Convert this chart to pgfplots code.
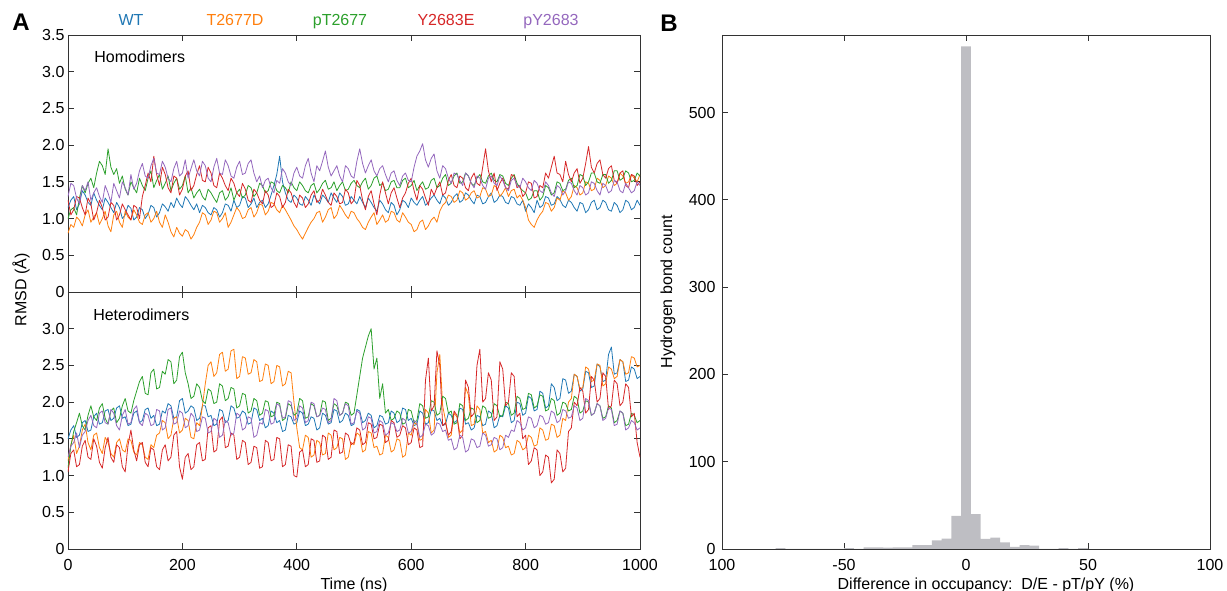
\documentclass[border=0pt]{standalone}
\usepackage{pgfplots}
\pgfplotsset{compat=1.18}
\usepackage{pgfplotstable}
\usepackage{fontspec}
\setmainfont{Liberation Sans}
\newcommand{\fs}{\fontsize{16}{19}\selectfont}
\definecolor{cWT}{HTML}{1F77B4}
\definecolor{cT}{HTML}{FF7F0E}
\definecolor{cpT}{HTML}{2CA02C}
\definecolor{cY}{HTML}{D62728}
\definecolor{cpY}{HTML}{9467BD}
\definecolor{hgray}{RGB}{190,190,195}

\pgfplotstableread{
t WT T pT Y pY
0 1.15 0.80 1.00 1.25 1.30
5 1.25 0.92 1.12 1.05 1.48
10 1.30 0.88 1.15 1.12 1.45
15 1.12 1.02 1.05 1.30 1.28
20 1.20 0.98 1.28 1.28 1.20
25 1.38 0.90 1.45 1.15 1.45
30 1.32 1.05 1.35 1.05 1.38
35 1.22 1.12 1.48 1.28 1.50
40 1.18 0.95 1.55 1.20 1.25
45 1.35 1.02 1.42 0.98 1.35
50 1.25 1.08 1.62 1.08 1.42
55 1.18 0.92 1.78 1.25 1.30
60 1.12 1.00 1.72 1.15 1.22
65 1.28 1.10 1.60 0.98 1.45
70 1.22 0.90 1.95 1.02 1.35
75 1.15 0.82 1.70 1.22 1.22
80 1.08 1.05 1.60 1.18 1.48
85 1.22 1.10 1.68 0.98 1.38
90 1.15 0.95 1.48 1.05 1.28
95 1.00 0.88 1.58 1.20 1.50
100 1.05 1.10 1.40 1.12 1.42
105 1.18 1.02 1.32 1.05 1.32
110 1.14 0.98 1.50 0.98 1.60
115 0.98 1.12 1.42 1.18 1.40
120 1.02 1.05 1.35 1.15 1.48
125 1.15 0.95 1.55 1.00 1.65
130 1.12 0.92 1.45 1.30 1.75
135 1.00 1.05 1.38 1.45 1.58
140 1.06 1.08 1.55 1.62 1.55
145 1.18 0.95 1.65 1.50 1.72
150 1.15 1.00 1.42 1.85 1.82
155 1.02 1.10 1.52 1.60 1.62
160 1.08 0.95 1.60 1.45 1.60
165 1.20 0.88 1.40 1.70 1.78
170 1.16 1.05 1.48 1.60 1.70
175 1.10 0.95 1.58 1.42 1.55
180 1.22 0.82 1.38 1.35 1.50
185 1.15 0.75 1.48 1.58 1.68
190 1.28 0.88 1.55 1.55 1.78
195 1.20 0.80 1.40 1.32 1.58
200 1.15 0.76 1.45 1.40 1.62
205 1.30 0.85 1.58 1.58 1.80
210 1.25 0.82 1.35 1.65 1.55
215 1.18 0.72 1.42 1.38 1.68
220 1.12 0.78 1.28 1.45 1.80
225 1.20 0.88 1.35 1.60 1.65
230 1.08 0.95 1.40 1.72 1.58
235 1.18 1.08 1.30 1.52 1.78
240 1.15 1.05 1.25 1.50 1.72
245 1.08 0.92 1.40 1.70 1.55
250 1.05 0.98 1.35 1.62 1.50
255 1.15 1.10 1.28 1.45 1.70
260 1.12 1.08 1.22 1.42 1.82
265 1.02 0.95 1.35 1.62 1.62
270 1.08 1.00 1.38 1.55 1.60
275 1.20 1.08 1.25 1.45 1.80
280 1.18 0.88 1.30 1.38 1.72
285 1.10 0.95 1.42 1.55 1.58
290 1.25 1.05 1.25 1.48 1.55
295 1.15 1.15 1.35 1.35 1.70
300 1.18 1.10 1.40 1.30 1.78
305 1.30 1.00 1.28 1.48 1.60
310 1.28 1.02 1.32 1.40 1.62
315 1.15 1.12 1.45 1.25 1.75
320 1.20 1.15 1.42 1.22 1.80
325 1.28 1.02 1.30 1.40 1.62
330 1.15 1.08 1.35 1.35 1.50
335 1.22 1.20 1.48 1.25 1.58
340 1.25 1.18 1.45 1.20 1.42
345 1.15 1.05 1.35 1.38 1.52
350 1.20 1.10 1.38 1.32 1.55
355 1.32 1.22 1.50 1.15 1.42
360 1.45 1.20 1.48 1.18 1.35
365 1.60 1.12 1.38 1.35 1.52
370 1.85 1.08 1.35 1.30 1.48
375 1.50 1.18 1.45 1.15 1.68
380 1.35 1.12 1.42 1.22 1.62
385 1.25 1.05 1.35 1.40 1.50
390 1.22 0.98 1.50 1.35 1.45
395 1.32 0.90 1.42 1.22 1.62
400 1.28 0.85 1.38 1.15 1.70
405 1.20 0.78 1.50 1.32 1.58
410 1.18 0.72 1.45 1.28 1.55
415 1.30 0.80 1.38 1.15 1.72
420 1.25 0.88 1.35 1.20 1.82
425 1.18 0.95 1.45 1.32 1.62
430 1.32 1.00 1.48 1.38 1.50
435 1.25 1.08 1.35 1.22 1.72
440 1.20 1.10 1.40 1.25 1.65
445 1.32 0.95 1.48 1.40 1.78
450 1.28 1.02 1.52 1.32 1.92
455 1.22 1.12 1.40 1.22 1.70
460 1.35 1.15 1.42 1.18 1.58
465 1.28 1.00 1.50 1.35 1.65
470 1.22 1.05 1.38 1.30 1.72
475 1.35 1.18 1.45 1.20 1.58
480 1.30 1.12 1.50 1.22 1.50
485 1.18 1.05 1.38 1.40 1.72
490 1.20 1.00 1.40 1.35 1.68
495 1.30 1.10 1.48 1.20 1.58
500 1.25 1.08 1.52 1.25 1.55
505 1.20 1.00 1.45 1.52 1.78
510 1.30 0.95 1.42 1.45 1.95
515 1.22 0.88 1.50 1.25 1.75
520 1.15 0.85 1.55 1.12 1.62
525 1.28 0.95 1.40 1.30 1.72
530 1.22 1.02 1.45 1.38 1.80
535 1.15 1.08 1.55 1.20 1.65
540 1.10 0.92 1.58 1.05 1.58
545 1.25 0.98 1.45 1.32 1.68
550 1.20 1.05 1.48 1.50 1.72
555 1.12 0.95 1.38 1.35 1.60
560 1.08 0.98 1.40 1.20 1.50
565 1.22 1.10 1.50 1.35 1.62
570 1.18 1.08 1.52 1.42 1.65
575 1.05 0.98 1.42 1.28 1.52
580 1.12 0.95 1.42 1.15 1.45
585 1.25 1.08 1.52 1.28 1.58
590 1.22 1.02 1.55 1.35 1.62
595 1.15 0.95 1.42 1.48 1.52
600 1.28 0.92 1.45 1.55 1.50
605 1.22 0.82 1.52 1.38 1.70
610 1.18 0.85 1.38 1.25 1.85
615 1.25 0.95 1.45 1.45 1.92
620 1.30 0.98 1.50 1.40 2.02
625 1.18 0.85 1.40 1.28 1.80
630 1.22 0.90 1.42 1.18 1.70
635 1.28 0.98 1.52 1.40 1.82
640 1.32 1.02 1.55 1.32 1.88
645 1.25 0.95 1.42 1.42 1.65
650 1.20 1.10 1.45 1.50 1.55
655 1.32 1.18 1.55 1.32 1.72
660 1.28 1.22 1.60 1.35 1.68
665 1.18 1.32 1.45 1.52 1.55
670 1.22 1.30 1.48 1.60 1.48
675 1.30 1.22 1.58 1.45 1.62
680 1.34 1.25 1.62 1.42 1.60
685 1.22 1.38 1.48 1.58 1.52
690 1.25 1.35 1.50 1.55 1.45
695 1.35 1.25 1.62 1.42 1.62
700 1.32 1.28 1.58 1.38 1.58
705 1.25 1.35 1.48 1.55 1.48
710 1.20 1.38 1.45 1.62 1.42
715 1.32 1.28 1.55 1.48 1.58
720 1.30 1.30 1.60 1.45 1.55
725 1.20 1.42 1.50 1.70 1.45
730 1.22 1.40 1.48 1.95 1.40
735 1.30 1.30 1.58 1.65 1.55
740 1.35 1.32 1.62 1.50 1.58
745 1.22 1.45 1.52 1.62 1.48
750 1.25 1.42 1.50 1.38 1.45
755 1.32 1.30 1.60 1.48 1.58
760 1.30 1.35 1.58 1.55 1.52
765 1.22 1.42 1.48 1.42 1.42
770 1.20 1.30 1.45 1.40 1.38
775 1.30 1.38 1.55 1.60 1.52
780 1.28 1.40 1.60 1.58 1.55
785 1.20 1.28 1.48 1.42 1.45
790 1.18 1.32 1.42 1.45 1.42
795 1.25 1.25 1.38 1.30 1.55
800 1.10 1.15 1.35 1.35 1.50
805 1.20 0.98 1.25 1.50 1.42
810 1.15 0.92 1.28 1.48 1.38
815 1.08 0.88 1.38 1.28 1.52
820 1.25 0.98 1.38 1.30 1.48
825 1.15 1.05 1.25 1.45 1.38
830 1.18 1.10 1.30 1.42 1.35
835 1.30 1.22 1.45 1.62 1.50
840 1.28 1.20 1.42 1.55 1.45
845 1.18 1.10 1.32 1.70 1.35
850 1.20 1.15 1.35 1.85 1.30
855 1.30 1.28 1.50 1.62 1.45
860 1.26 1.25 1.48 1.60 1.42
865 1.18 1.38 1.38 1.50 1.32
870 1.15 1.35 1.40 1.78 1.38
875 1.25 1.25 1.52 1.60 1.50
880 1.22 1.30 1.55 1.50 1.48
885 1.15 1.45 1.42 1.62 1.38
890 1.10 1.42 1.45 1.68 1.32
895 1.22 1.32 1.60 1.48 1.45
900 1.20 1.35 1.58 1.55 1.42
905 1.08 1.50 1.45 1.75 1.32
910 1.12 1.48 1.50 1.98 1.35
915 1.22 1.38 1.62 1.70 1.50
920 1.25 1.40 1.62 1.62 1.48
925 1.12 1.55 1.50 1.75 1.38
930 1.15 1.52 1.48 1.80 1.32
935 1.25 1.42 1.60 1.60 1.48
940 1.22 1.45 1.60 1.55 1.45
945 1.12 1.58 1.48 1.68 1.35
950 1.10 1.55 1.52 1.72 1.38
955 1.22 1.45 1.65 1.52 1.52
960 1.18 1.48 1.65 1.48 1.50
965 1.08 1.62 1.52 1.62 1.38
970 1.12 1.58 1.55 1.65 1.35
975 1.25 1.48 1.65 1.45 1.48
980 1.22 1.50 1.62 1.42 1.42
985 1.12 1.60 1.50 1.60 1.35
990 1.15 1.55 1.52 1.58 1.38
995 1.25 1.50 1.62 1.45 1.50
1000 1.18 1.60 1.58 1.50 1.45
}\homo

\pgfplotstableread{
t WT T pT Y pY
0 1.50 1.20 1.10 1.05 1.25
5 1.62 1.42 1.40 1.30 1.40
10 1.68 1.55 1.60 1.35 1.45
15 1.52 1.30 1.72 1.12 1.58
20 1.55 1.40 1.85 1.15 1.38
25 1.72 1.62 1.68 1.40 1.55
30 1.75 1.70 1.62 1.48 1.60
35 1.60 1.45 1.82 1.25 1.75
40 1.62 1.35 1.95 1.22 1.82
45 1.80 1.55 1.80 1.50 1.68
50 1.85 1.58 1.75 1.40 1.65
55 1.70 1.38 1.92 1.18 1.85
60 1.72 1.30 1.98 1.10 1.88
65 1.88 1.52 1.78 1.38 1.72
70 1.90 1.45 1.70 1.52 1.70
75 1.75 1.30 1.88 1.25 1.90
80 1.78 1.25 1.92 1.18 1.85
85 1.92 1.45 1.72 1.42 1.68
90 1.95 1.50 1.78 1.38 1.62
95 1.78 1.35 1.95 1.12 1.82
100 1.80 1.32 2.05 1.05 1.90
105 1.68 1.50 1.88 1.42 1.70
110 1.70 1.48 1.85 1.62 1.72
115 1.85 1.32 2.02 1.35 1.90
120 1.88 1.28 2.15 1.20 1.95
125 1.72 1.45 2.28 1.42 1.72
130 1.75 1.42 2.35 1.45 1.68
135 1.90 1.25 2.12 1.18 1.85
140 1.92 1.22 2.10 1.12 1.82
145 1.78 1.42 2.40 1.38 1.68
150 1.82 1.38 2.45 1.35 1.70
155 1.68 1.55 2.18 1.12 1.90
160 1.70 1.58 2.20 1.08 1.88
165 1.88 1.75 2.42 1.35 1.62
170 1.85 1.72 2.38 1.42 1.65
175 1.98 1.50 2.58 1.20 1.90
180 1.95 1.55 2.55 1.25 1.92
185 1.78 1.78 2.25 1.55 1.70
190 1.80 1.80 2.30 1.60 1.72
195 2.02 1.58 2.62 1.12 1.88
200 2.05 1.62 2.68 0.95 1.85
205 1.85 1.78 2.40 1.25 1.65
210 1.88 1.75 2.25 1.30 1.68
215 1.95 1.52 2.05 1.08 1.85
220 1.92 1.50 2.08 1.12 1.80
225 1.75 1.72 2.25 1.42 1.60
230 1.78 1.68 2.20 1.45 1.62
235 1.95 1.95 2.02 1.20 1.80
240 1.95 2.25 1.98 1.22 1.78
245 1.80 2.50 2.18 1.65 1.58
250 1.82 2.55 2.15 1.68 1.60
255 1.68 2.35 1.98 1.32 1.78
260 1.70 2.40 2.00 1.35 1.75
265 1.90 2.65 2.25 1.75 1.52
270 1.88 2.68 2.22 1.80 1.55
275 1.72 2.42 2.02 1.38 1.75
280 1.75 2.45 2.05 1.40 1.72
285 1.95 2.70 2.20 1.58 1.55
290 1.92 2.72 2.18 1.55 1.58
295 1.78 2.32 1.92 1.22 1.85
300 1.80 2.35 1.95 1.25 1.82
305 1.88 2.62 2.12 1.48 1.62
310 1.85 2.60 2.10 1.45 1.65
315 1.70 2.38 1.85 1.15 1.80
320 1.72 2.40 1.88 1.18 1.78
325 1.92 2.58 2.05 1.40 1.52
330 1.90 2.55 2.02 1.38 1.55
335 1.75 2.28 1.82 1.10 1.72
340 1.78 2.30 1.85 1.12 1.70
345 1.65 2.52 2.02 1.48 1.90
350 1.68 2.50 2.00 1.45 1.88
355 1.88 2.25 1.80 1.20 1.70
360 1.85 2.28 1.82 1.22 1.72
365 1.72 2.50 2.00 1.52 1.98
370 1.75 2.48 1.98 1.50 1.95
375 1.60 2.22 1.75 1.12 1.78
380 1.62 2.25 1.78 1.15 1.80
385 1.82 2.42 1.98 1.42 2.02
390 1.80 2.40 1.95 1.40 2.00
395 1.70 2.00 1.82 1.00 1.75
400 1.72 1.65 1.85 0.98 1.78
405 1.88 1.38 2.05 1.32 1.95
410 1.85 1.35 2.02 1.35 1.92
415 1.68 1.55 1.78 1.12 1.72
420 1.70 1.52 1.80 1.15 1.75
425 1.80 1.25 1.98 1.50 2.00
430 1.78 1.28 1.95 1.48 1.98
435 1.62 1.48 1.80 1.18 1.80
440 1.65 1.45 1.82 1.20 1.82
445 1.85 1.28 2.02 1.55 1.92
450 1.82 1.30 2.00 1.52 1.90
455 1.70 1.58 1.75 1.22 1.72
460 1.72 1.55 1.78 1.25 1.75
465 1.90 1.35 1.98 1.62 2.05
470 1.88 1.38 1.95 1.60 2.02
475 1.72 1.52 1.82 1.30 1.82
480 1.75 1.50 1.85 1.32 1.85
485 1.85 1.22 2.00 1.58 1.98
490 1.82 1.25 1.98 1.55 1.95
495 1.68 1.45 1.82 1.42 1.70
500 1.70 1.42 1.85 1.45 1.72
505 1.90 1.58 2.10 1.65 1.88
510 1.88 1.55 2.35 1.62 1.85
515 1.72 1.32 2.60 1.42 1.62
520 1.75 1.35 2.75 1.45 1.65
525 1.85 1.60 2.90 1.72 1.80
530 1.82 1.58 3.00 1.70 1.78
535 1.65 1.38 2.45 1.50 1.58
540 1.68 1.40 2.60 1.52 1.60
545 1.82 1.28 2.05 1.70 1.75
550 1.80 1.30 2.25 1.68 1.72
555 1.70 1.55 1.85 1.45 1.55
560 1.72 1.52 1.90 1.48 1.58
565 1.88 1.32 1.75 1.75 1.72
570 1.85 1.35 1.78 1.72 1.70
575 1.72 1.50 1.88 1.52 1.60
580 1.75 1.48 1.85 1.55 1.62
585 1.92 1.25 1.70 1.68 1.78
590 1.90 1.28 1.72 1.65 1.75
595 1.75 1.58 1.90 1.42 1.58
600 1.78 1.55 1.88 1.45 1.60
605 1.68 1.72 1.72 1.65 1.75
610 1.70 1.70 1.75 1.62 1.72
615 1.88 1.48 1.98 1.38 1.52
620 1.85 1.50 1.95 1.40 1.55
625 1.70 1.90 1.78 2.30 1.70
630 1.72 1.85 1.80 2.60 1.68
635 1.90 1.58 2.02 1.88 1.55
640 1.88 1.62 2.00 1.95 1.58
645 1.75 2.40 1.82 2.70 1.72
650 1.78 2.65 1.85 2.50 1.70
655 1.68 1.95 2.08 1.68 1.60
660 1.70 1.75 2.05 1.72 1.62
665 1.85 1.52 1.85 1.55 1.48
670 1.82 1.55 1.88 1.60 1.50
675 1.72 1.85 1.70 1.88 1.35
680 1.75 1.80 1.72 1.82 1.38
685 1.92 1.58 1.98 1.50 1.55
690 1.90 1.62 1.95 1.55 1.52
695 1.70 2.20 1.75 2.30 1.32
700 1.72 2.10 1.78 2.20 1.35
705 1.62 1.68 1.92 1.80 1.50
710 1.65 1.70 1.90 1.85 1.48
715 1.82 1.95 1.72 2.50 1.38
720 1.80 1.90 1.75 2.72 1.40
725 1.68 1.58 1.95 2.00 1.58
730 1.70 1.60 1.92 2.05 1.55
735 1.88 1.45 1.78 2.40 1.40
740 1.85 1.48 1.80 2.30 1.42
745 1.65 1.32 1.98 1.75 1.52
750 1.68 1.35 1.95 1.80 1.50
755 1.82 1.55 1.80 2.55 1.35
760 1.80 1.52 1.82 2.45 1.38
765 1.95 1.38 2.00 1.95 1.55
770 1.92 1.40 1.98 2.00 1.52
775 1.72 1.28 1.82 2.40 1.62
780 1.75 1.30 1.85 2.35 1.60
785 2.00 1.48 2.08 1.80 1.75
790 1.98 1.45 2.05 1.85 1.72
795 1.82 1.35 1.90 1.50 1.62
800 1.85 1.38 1.92 1.55 1.65
805 2.08 1.55 2.12 1.15 1.80
810 2.05 1.52 2.10 1.20 1.78
815 1.88 1.40 1.92 1.38 1.65
820 1.90 1.42 1.95 1.35 1.68
825 2.15 1.65 2.10 1.00 1.82
830 2.12 1.62 2.08 1.05 1.80
835 1.92 1.48 1.88 1.28 1.70
840 1.95 1.50 1.90 1.25 1.72
845 2.25 1.70 2.05 0.90 1.88
850 2.20 1.68 2.02 0.95 1.85
855 2.02 1.52 1.82 1.35 1.72
860 2.05 1.55 1.85 1.30 1.75
865 2.32 1.78 2.00 1.05 1.90
870 2.30 1.75 1.98 1.10 1.88
875 2.12 2.00 1.88 1.60 1.78
880 2.15 2.05 1.90 1.65 1.80
885 2.38 2.38 2.08 2.00 1.95
890 2.35 2.35 2.05 1.95 1.92
895 2.15 2.18 1.85 2.20 1.75
900 2.18 2.20 1.88 2.15 1.78
905 2.42 2.48 2.02 1.85 2.05
910 2.40 2.45 2.00 1.90 2.02
915 2.20 2.28 1.82 2.35 1.82
920 2.22 2.30 1.85 2.30 1.85
925 2.52 2.52 1.98 2.00 1.98
930 2.48 2.50 1.95 2.05 1.95
935 2.28 2.22 1.78 2.40 1.75
940 2.30 2.25 1.80 2.35 1.78
945 2.65 2.48 1.95 1.90 1.92
950 2.75 2.45 1.92 1.95 1.90
955 2.38 2.32 1.72 2.30 1.68
960 2.40 2.35 1.75 2.25 1.70
965 2.58 2.58 1.88 1.95 1.88
970 2.55 2.55 1.85 2.00 1.85
975 2.28 2.38 1.68 2.25 1.62
980 2.30 2.40 1.70 2.20 1.65
985 2.48 2.62 1.85 1.80 1.75
990 2.45 2.60 1.82 1.85 1.72
995 2.32 2.48 1.72 1.45 1.62
1000 2.35 2.50 1.75 1.25 1.65
}\hetero

\pgfplotsset{
  base/.style={
    scale only axis,
    tick align=inside,
    major tick length=6pt,
    axis line style={black!80, line width=0.9pt},
    every tick/.style={black!80, line width=0.9pt},
    tick label style={font=\fs},
    /pgf/number format/assume math mode=true,
  },
  rmsd/.style={
    base,
    width=572pt, height=257pt,
    xmin=0, xmax=1000, ymin=0, ymax=3.5,
    xtick={0,200,400,600,800,1000},
    every axis plot/.append style={line width=0.8pt, line join=round},
  },
}

\begin{document}
\begin{tikzpicture}
\useasboundingbox (0pt,0pt) rectangle (1227pt,591pt);

% Panel A, top: homodimers
\begin{axis}[rmsd, at={(68pt,299pt)}, anchor=south west,
  xticklabel=\empty,
  ytick={0,0.5,1,1.5,2,2.5,3,3.5},
  yticklabels={0,0.5,1.0,1.5,2.0,2.5,3.0,3.5}]
\addplot[cWT] table[x=t,y=WT] {\homo};
\addplot[cT] table[x=t,y=T] {\homo};
\addplot[cpT] table[x=t,y=pT] {\homo};
\addplot[cY] table[x=t,y=Y] {\homo};
\addplot[cpY] table[x=t,y=pY] {\homo};
\node[anchor=west, font=\fs] at (axis cs:40,3.2) {Homodimers};
\end{axis}

% Panel A, bottom: heterodimers
\begin{axis}[rmsd, at={(68pt,42pt)}, anchor=south west,
  xticklabels={0,200,400,600,800,1000},
  xticklabel style={yshift=-7pt},
  ytick={0,0.5,1,1.5,2,2.5,3,3.5},
  yticklabels={0,0.5,1.0,1.5,2.0,2.5,3.0,}]
\addplot[cWT] table[x=t,y=WT] {\hetero};
\addplot[cT] table[x=t,y=T] {\hetero};
\addplot[cpT] table[x=t,y=pT] {\hetero};
\addplot[cY] table[x=t,y=Y] {\hetero};
\addplot[cpY] table[x=t,y=pY] {\hetero};
\node[anchor=west, font=\fs] at (axis cs:38,3.19) {Heterodimers};
\end{axis}

% Panel B: histogram
\begin{axis}[base, at={(722pt,42pt)}, anchor=south west,
  width=488pt, height=514pt,
  xmin=-100, xmax=100, ymin=0, ymax=589,
  xtick={-100,-50,0,50,100},
  xticklabels={100,-50,0,50,100},
  xticklabel style={yshift=-7pt},
  ytick={0,100,200,300,400,500},
  yticklabels={0,100,200,300,400,500},
  yticklabel style={xshift=-3pt},
  ytick pos=left]
\addplot[ybar interval, fill=hgray, draw=none] coordinates {
(-78,1) (-74,0) (-70,0) (-66,0) (-62,0) (-58,0) (-54,0) (-50,1) (-46,0)
(-42,2) (-38,2) (-34,1.5) (-30,2) (-26,2) (-22,4.5) (-18,4.5) (-14,10) (-10,12)
(-6,38) (-2,576) (2,40) (6,11.5) (10,13) (14,7.5) (18,2.5) (22,4.5) (26,3.8)
(30,0) (34,0) (38,1) (42,0) (46,1) (50,0)
};
\end{axis}

% Legend of panel A
\node[anchor=base, font=\fs, text=cWT] at (131pt,565pt) {WT};
\node[anchor=base, font=\fs, text=cT] at (235pt,565pt) {T2677D};
\node[anchor=base, font=\fs, text=cpT] at (340pt,565pt) {pT2677};
\node[anchor=base, font=\fs, text=cY] at (446pt,565pt) {Y2683E};
\node[anchor=base, font=\fs, text=cpY] at (551pt,565pt) {pY2683};

% Panel letters and axis titles
\node[font=\fontsize{24}{28}\selectfont\bfseries] at (21pt,569pt) {A};
\node[font=\fontsize{24}{28}\selectfont\bfseries] at (669pt,568pt) {B};
\node[font=\fs, rotate=90] at (21pt,301pt) {RMSD (Å)};
\node[font=\fs, rotate=90] at (668pt,299pt) {Hydrogen bond count};
\node[anchor=base, font=\fs] at (354pt,1.5pt) {Time (ns)};
\node[anchor=base, font=\fs] at (986pt,1.5pt) {Difference in occupancy:\ \ D/E - pT/pY (\%)};
\end{tikzpicture}
\end{document}
